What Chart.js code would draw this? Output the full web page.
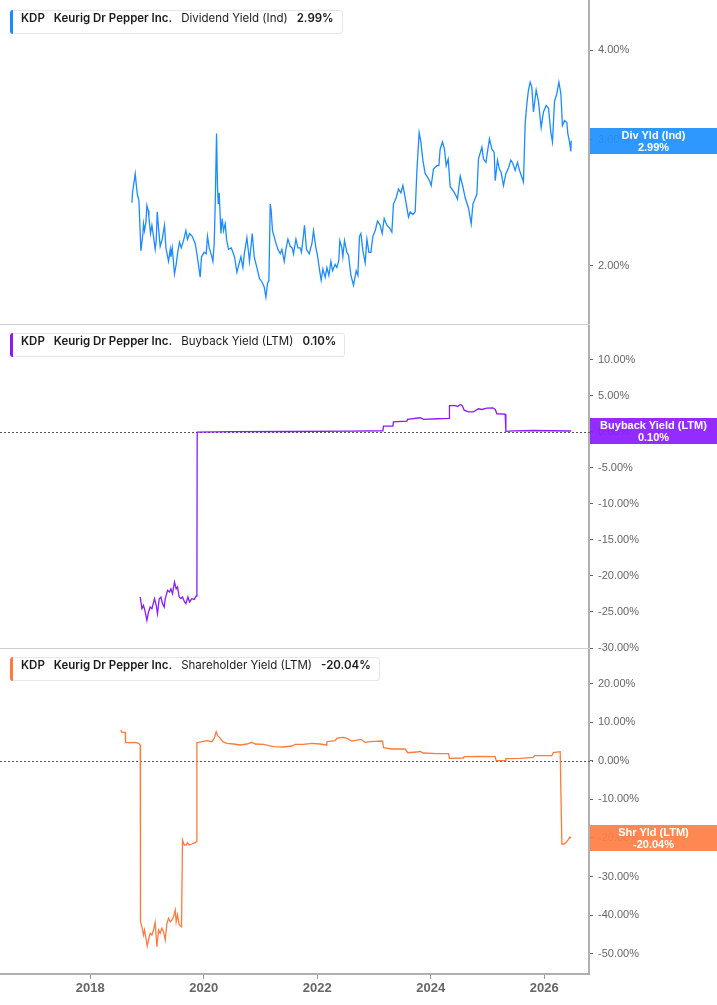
<!DOCTYPE html>
<html>
<head>
<meta charset="utf-8">
<script src="https://cdn.jsdelivr.net/npm/chart.js@4.4.1/dist/chart.umd.min.js"></script>
<style>
  body { margin: 0; background: #fff; }
  #wrap { position: relative; width: 717px; height: 1005px; overflow: hidden; }
  canvas { position: absolute; left: 0; }
  .sep { position: absolute; left: 0; width: 590px; height: 1px; background: #cfcfcf; }
  .leg {
    position: absolute; left: 10px; height: 22px; line-height: 22px;
    border: 1px solid #e6e6e6; border-radius: 3px; background: #fff;
    padding: 0 8px 0 10px; font: 11.5px Inter, sans-serif; color: #1b1b1b; white-space: nowrap;
  }
  .leg .bar { position: absolute; left: -1px; top: -1px; bottom: -1px; width: 3px; border-radius: 3px 0 0 3px; }
  .leg b { font-weight: 600; }
  .leg .t { margin-left: 9px; }
  .val {
    position: absolute; left: 590px; width: 127px; height: 26px; box-sizing: border-box; padding-top: 1px;
    color: #fff; font: bold 11px "Liberation Sans", Arial, sans-serif; line-height: 12px; text-align: center;
  }
</style>
</head>
<body>
<div id="wrap">
  <canvas id="c1" width="717" height="324" style="top:0"></canvas>
  <canvas id="c2" width="717" height="331" style="top:325px"></canvas>
  <canvas id="c3" width="717" height="356" style="top:649px"></canvas>
  <div class="sep" style="top:324px"></div>
  <div class="sep" style="top:648px"></div>

  <div class="leg" style="top:10px"><i class="bar" style="background:#1a8cff"></i><b>KDP</b><b class="t">Keurig Dr Pepper Inc.</b><span class="t">Dividend Yield (Ind)</span><b class="t">2.99%</b></div>
  <div class="leg" style="top:333px"><i class="bar" style="background:#8b1aff"></i><b>KDP</b><b class="t">Keurig Dr Pepper Inc.</b><span class="t">Buyback Yield (LTM)</span><b class="t">0.10%</b></div>
  <div class="leg" style="top:657px"><i class="bar" style="background:#ff7a3d"></i><b>KDP</b><b class="t">Keurig Dr Pepper Inc.</b><span class="t">Shareholder Yield (LTM)</span><b class="t">-20.04%</b></div>

  <div class="val" id="v1" style="background:rgba(30,144,255,0.93)">Div Yld (Ind)<br>2.99%</div>
  <div class="val" id="v2" style="background:rgba(140,28,255,0.93)">Buyback Yield (LTM)<br>0.10%</div>
  <div class="val" id="v3" style="background:rgba(255,127,69,0.93)">Shr Yld (LTM)<br>-20.04%</div>
</div>
<script>
// x axis (decimal years)
const xMin = 2016.41;
const xMax = 2026.79;
const yearTicks = [2018, 2020, 2022, 2024, 2026];

// Dividend Yield (Ind), %
const divYears = [2018.735,2018.745,2018.793,2018.811,2018.833,2018.858,2018.893,2018.929,2018.939,2018.957,
  2018.981,2018.999,2019.022,2019.034,2019.063,2019.087,2019.115,2019.145,2019.163,2019.181,
  2019.204,2019.233,2019.269,2019.309,2019.334,2019.380,2019.410,2019.422,2019.445,2019.485,
  2019.515,2019.538,2019.574,2019.604,2019.644,2019.686,2019.714,2019.750,2019.797,2019.850,
  2019.880,2019.915,2019.938,2019.961,2020.009,2020.044,2020.067,2020.097,2020.144,2020.162,
  2020.185,2020.203,2020.226,2020.243,2020.256,2020.273,2020.303,2020.326,2020.349,2020.379,
  2020.402,2020.437,2020.485,2020.514,2020.543,2020.585,2020.620,2020.656,2020.691,2020.719,
  2020.761,2020.807,2020.855,2020.890,2020.937,2020.983,2021.026,2021.066,2021.096,2021.124,
  2021.149,2021.172,2021.189,2021.212,2021.260,2021.307,2021.348,2021.378,2021.419,2021.448,
  2021.484,2021.524,2021.559,2021.582,2021.625,2021.660,2021.700,2021.723,2021.753,2021.776,
  2021.811,2021.859,2021.907,2021.935,2021.977,2022.005,2022.035,2022.070,2022.100,2022.141,
  2022.171,2022.206,2022.241,2022.270,2022.317,2022.347,2022.382,2022.398,2022.435,2022.452,
  2022.481,2022.523,2022.552,2022.594,2022.640,2022.687,2022.717,2022.745,2022.770,2022.805,
  2022.846,2022.876,2022.911,2022.946,2022.981,2023.022,2023.063,2023.110,2023.145,2023.181,
  2023.228,2023.274,2023.316,2023.344,2023.392,2023.433,2023.475,2023.510,2023.551,2023.581,
  2023.609,2023.639,2023.686,2023.727,2023.757,2023.797,2023.827,2023.862,2023.903,2023.944,
  2023.979,2024.009,2024.049,2024.109,2024.144,2024.167,2024.208,2024.243,2024.273,2024.308,
  2024.344,2024.391,2024.432,2024.472,2024.520,2024.567,2024.608,2024.666,2024.714,2024.744,
  2024.772,2024.814,2024.842,2024.902,2024.930,2024.973,2025.036,2025.078,2025.119,2025.137,
  2025.177,2025.212,2025.242,2025.283,2025.325,2025.371,2025.413,2025.448,2025.489,2025.530,
  2025.565,2025.607,2025.635,2025.665,2025.695,2025.723,2025.753,2025.783,2025.811,2025.859,
  2025.900,2025.947,2025.988,2026.035,2026.076,2026.118,2026.146,2026.182,2026.223,2026.259,
  2026.294,2026.322,2026.358,2026.400,2026.417,2026.446,2026.470,2026.476];
const divValues = [2.45,2.53,2.69,2.60,2.51,2.47,2.10,2.22,2.29,2.24,
  2.30,2.43,2.39,2.34,2.22,2.28,2.20,2.11,2.17,2.38,
  2.26,2.13,2.18,2.28,2.12,2.03,2.11,2.06,2.12,1.95,
  2.01,2.08,2.16,2.12,2.17,2.24,2.18,2.22,2.20,2.15,
  2.08,1.99,1.93,2.06,2.09,2.08,2.20,2.12,2.06,2.03,
  2.15,2.44,3.06,2.58,2.44,2.53,2.22,2.33,2.24,2.29,
  2.18,2.11,2.12,2.09,2.06,1.96,2.01,2.06,1.99,2.09,
  2.19,2.03,2.22,2.06,1.99,1.92,1.90,1.87,1.81,1.89,
  1.91,2.44,2.39,2.24,2.17,2.11,2.08,2.11,2.03,2.11,
  2.18,2.13,2.12,2.08,2.18,2.12,2.12,2.09,2.19,2.28,
  2.11,2.08,2.15,2.24,2.12,2.07,1.99,1.91,1.98,1.93,
  1.99,1.94,2.03,1.97,2.01,1.99,2.04,2.17,2.12,2.06,
  2.17,2.09,2.07,1.94,1.88,1.97,1.94,2.20,2.22,2.10,
  2.02,2.18,2.09,2.09,2.20,2.24,2.31,2.28,2.22,2.33,
  2.28,2.26,2.23,2.44,2.49,2.56,2.53,2.59,2.49,2.41,
  2.34,2.38,2.36,2.38,2.72,3.07,2.98,2.81,2.69,2.66,
  2.63,2.59,2.73,2.76,2.76,2.91,2.98,2.91,2.76,2.82,
  2.58,2.55,2.52,2.48,2.67,2.58,2.49,2.41,2.29,2.44,
  2.47,2.52,2.82,2.93,2.82,2.79,3.01,2.91,2.88,2.63,
  2.81,2.73,2.70,2.59,2.69,2.74,2.81,2.78,2.72,2.79,
  2.72,2.66,2.62,3.16,3.37,3.52,3.61,3.55,3.28,3.52,
  3.39,3.12,3.28,3.35,3.32,3.07,2.98,3.39,3.48,3.61,
  3.48,3.14,3.19,3.17,3.06,2.98,2.89,2.99];
const divTicks = [2, 3, 4];

// Buyback Yield (LTM), %
const bbYears = [2018.881,2018.911,2018.939,2018.969,2018.999,2019.027,2019.057,2019.087,2019.133,2019.163,
  2019.186,2019.216,2019.246,2019.274,2019.304,2019.322,2019.362,2019.397,2019.422,2019.450,
  2019.485,2019.515,2019.538,2019.568,2019.598,2019.626,2019.662,2019.686,2019.722,2019.750,
  2019.792,2019.833,2019.868,2019.880,2019.885,2020.500,2021.500,2022.581,2023.158,2023.168,
  2023.334,2023.344,2023.581,2023.591,2023.815,2023.873,2024.109,2024.326,2024.331,2024.432,
  2024.476,2024.520,2024.555,2024.590,2024.666,2024.754,2024.842,2024.902,2024.990,2025.096,
  2025.137,2025.167,2025.313,2025.325,2025.454,2025.806,2026.476];
const bbValues = [-22.93,-24.54,-24.09,-25.00,-26.16,-25.00,-24.31,-24.54,-23.16,-24.09,
  -25.23,-23.16,-22.93,-23.85,-24.31,-23.16,-22.02,-22.24,-21.78,-22.47,
  -20.86,-21.78,-21.55,-22.93,-23.16,-22.93,-23.62,-23.85,-22.93,-23.62,
  -23.16,-23.26,-22.79,-22.60,-0.05,0.00,0.03,0.08,0.13,0.77,
  0.77,1.38,1.46,1.70,1.93,1.70,1.80,1.84,3.63,3.63,
  3.50,3.77,3.63,2.98,2.76,2.76,3.18,3.08,3.26,3.31,
  3.08,2.49,2.43,0.05,0.12,0.17,0.10];
const bbTicks = [10, 5, 0, -5, -10, -15, -20, -25, -30];

// Shareholder Yield (LTM), %
const shYears = [2018.541,2018.559,2018.617,2018.622,2018.705,2018.793,2018.851,2018.881,2018.886,2018.911,
  2018.939,2018.957,2018.987,2019.004,2019.027,2019.057,2019.087,2019.115,2019.145,2019.175,
  2019.204,2019.233,2019.263,2019.292,2019.322,2019.352,2019.380,2019.410,2019.440,2019.468,
  2019.498,2019.515,2019.538,2019.568,2019.609,2019.626,2019.656,2019.692,2019.714,2019.744,
  2019.792,2019.850,2019.873,2019.880,2019.968,2020.056,2020.144,2020.185,2020.220,2020.250,
  2020.291,2020.338,2020.409,2020.525,2020.643,2020.761,2020.849,2020.907,2021.054,2021.230,
  2021.406,2021.554,2021.612,2021.759,2021.907,2022.053,2022.159,2022.171,2022.317,2022.347,
  2022.405,2022.463,2022.523,2022.611,2022.700,2022.770,2022.846,2022.934,2023.022,2023.151,
  2023.168,2023.316,2023.551,2023.598,2023.757,2023.815,2023.863,2024.109,2024.314,2024.331,
  2024.578,2024.590,2024.842,2025.137,2025.154,2025.313,2025.325,2025.577,2025.811,2025.829,
  2026.135,2026.163,2026.282,2026.312,2026.352,2026.388,2026.428,2026.452,2026.476];
const shValues = [7.95,7.36,7.36,4.66,4.66,4.75,4.49,4.07,-41.71,-43.00,
  -45.16,-43.86,-46.45,-48.00,-46.45,-44.72,-45.16,-43.86,-41.97,-48.19,
  -43.86,-44.72,-43.42,-44.30,-46.45,-42.12,-40.83,-41.71,-41.27,-40.41,
  -38.68,-41.71,-39.97,-42.56,-43.00,-20.54,-21.84,-21.80,-21.24,-21.84,
  -21.58,-21.24,-20.98,4.66,4.92,5.18,4.92,5.80,7.51,6.40,
  5.80,4.92,4.51,4.33,4.07,4.33,4.77,4.33,4.25,3.63,
  3.55,3.81,4.25,4.25,4.51,4.33,4.07,4.92,5.18,5.80,
  5.96,6.06,5.80,5.10,5.36,5.54,4.77,4.92,5.00,5.10,
  3.37,3.03,3.03,2.07,2.25,2.44,1.99,1.81,1.81,0.62,
  0.70,1.04,1.12,1.04,0.00,0.00,0.52,0.62,0.88,1.30,
  1.30,2.07,2.33,-21.58,-21.58,-21.14,-20.36,-19.80,-20.04];
const shTicks = [20, 10, 0, -10, -20, -30, -40, -50];

// dotted line at 0%
const zeroLine = {
  id: 'zeroLine',
  beforeDatasetsDraw(chart, args, opts) {
    if (!opts.show) return;
    const ctx = chart.ctx;
    const y = Math.round(chart.scales.y.getPixelForValue(0)) + 0.5;
    ctx.save();
    ctx.strokeStyle = '#555';
    ctx.lineWidth = 1;
    ctx.setLineDash([2, 2]);
    ctx.beginPath();
    ctx.moveTo(chart.chartArea.left, y);
    ctx.lineTo(chart.chartArea.right + 4, y);
    ctx.stroke();
    ctx.restore();
  }
};

function makePanel(canvasId, years, values, color, yType, yMin, yMax, yTicks, opts) {
  const ctx = document.getElementById(canvasId).getContext('2d');
  return new Chart(ctx, {
    type: 'line',
    data: {
      datasets: [{
        data: years.map((x, i) => ({ x: x, y: values[i] })),
        borderColor: color,
        borderWidth: 1.3,
        pointRadius: 0,
        tension: 0
      }]
    },
    options: {
      responsive: false,
      animation: false,
      devicePixelRatio: 1,
      layout: { padding: { left: 0, right: 0, top: 0, bottom: opts.padBottom || 0 } },
      plugins: {
        legend: { display: false },
        tooltip: { enabled: false },
        zeroLine: { show: !!opts.zero }
      },
      scales: {
        x: {
          type: 'linear',
          display: !!opts.showX,
          min: xMin,
          max: xMax,
          afterBuildTicks: s => { s.ticks = yearTicks.map(v => ({ value: v })); },
          afterFit: s => {
            if (opts.showX) s.height = 31;
            s.paddingLeft = 0;
            s.paddingRight = 0;
          },
          grid: { drawOnChartArea: false, drawTicks: true, tickLength: 5, color: '#999' },
          border: { display: true, color: '#b0b0b0', width: 2 },
          ticks: {
            padding: 2,
            color: '#666',
            autoSkip: false,
            maxRotation: 0,
            font: { family: '"Liberation Sans", Arial, sans-serif', size: 13, weight: 'bold' },
            callback: v => String(v)
          }
        },
        y: {
          type: yType,
          position: 'right',
          min: yMin,
          max: yMax,
          afterBuildTicks: s => { s.ticks = yTicks.map(v => ({ value: v })); },
          afterFit: s => {
            s.width = 128;
            s.paddingTop = 0;
            s.paddingBottom = 0;
          },
          grid: { drawOnChartArea: false, drawTicks: true, tickLength: 4, tickColor: '#666', tickWidth: 1 },
          border: { display: true, color: '#b0b0b0', width: 2 },
          ticks: {
            padding: 5,
            color: '#666',
            autoSkip: false,
            font: { family: '"Liberation Sans", Arial, sans-serif', size: 11 },
            callback: v => Number(v).toFixed(2) + '%'
          }
        }
      }
    },
    plugins: [zeroLine]
  });
}

function placeValueBox(boxId, chart, canvasTop, values) {
  const y = chart.scales.y.getPixelForValue(values[values.length - 1]);
  document.getElementById(boxId).style.top = (canvasTop + y - 13) + 'px';
}

const chart1 = makePanel('c1', divYears, divValues, '#1a8cff', 'logarithmic', 1.66, 4.70, divTicks, {});
const chart2 = makePanel('c2', bbYears, bbValues, '#8b1aff', 'linear', -30, 14.8, bbTicks, { zero: true, padBottom: 8 });
const chart3 = makePanel('c3', shYears, shValues, '#ff7a3d', 'linear', -55.26, 28.94, shTicks, { zero: true, showX: true });

placeValueBox('v1', chart1, 0, divValues);
placeValueBox('v2', chart2, 325, bbValues);
placeValueBox('v3', chart3, 649, shValues);
</script>
</body>
</html>
